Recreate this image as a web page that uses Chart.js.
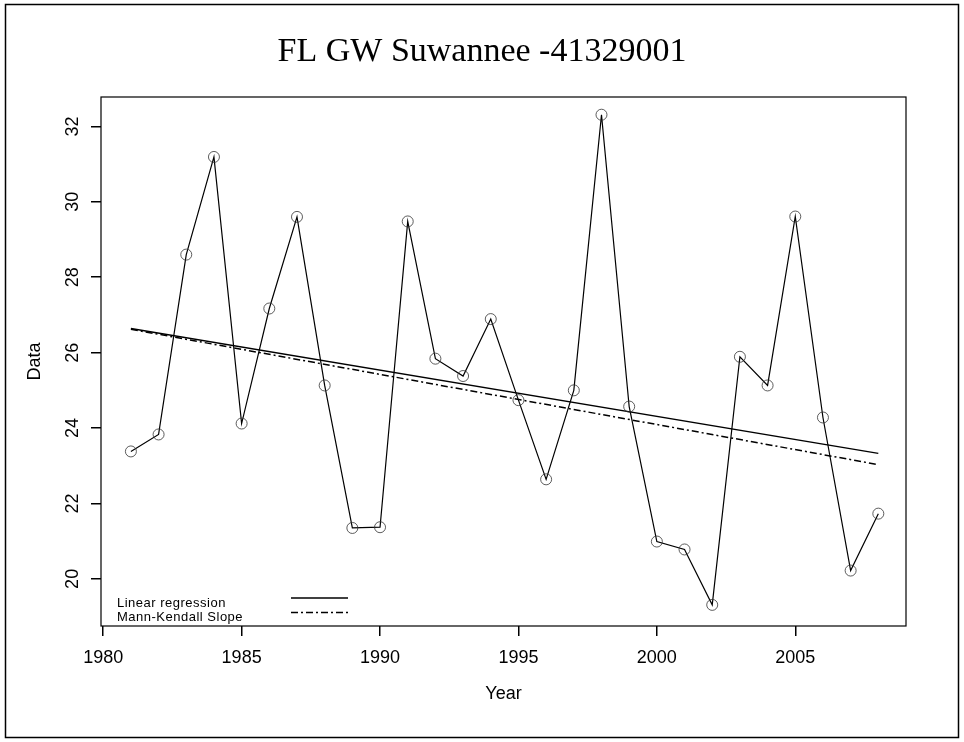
<!DOCTYPE html>
<html>
<head>
<meta charset="utf-8">
<title>FL GW Suwannee -41329001</title>
<script src="https://cdn.jsdelivr.net/npm/chart.js@4.4.1/dist/chart.umd.min.js"></script>
<style>
  html, body { margin: 0; padding: 0; background: #fff; }
  #wrap { width: 964px; height: 742px; }
</style>
</head>
<body>
<div id="wrap"><canvas id="myChart"></canvas></div>
<script>
// observed series
const years = [1981, 1982, 1983, 1984, 1985, 1986, 1987, 1988, 1989, 1990,
    1991, 1992, 1993, 1994, 1995, 1996, 1997, 1998, 1999, 2000,
    2001, 2002, 2003, 2004, 2005, 2006, 2007, 2008];
const values = [23.38, 23.83, 28.6, 31.19, 24.12, 27.17, 29.6, 25.13, 21.35, 21.37,
    29.48, 25.84, 25.38, 26.89, 24.74, 22.64, 25.0, 32.31, 24.57, 20.99,
    20.78, 19.31, 25.89, 25.13, 29.61, 24.28, 20.22, 21.73];

// trend lines (end points)
const trendYears = [1981, 2008];
const regressionValues = [26.64, 23.33];
const mannKendallValues = [26.62, 23.03];

const legendLabels = ['Linear regression', 'Mann-Kendall Slope'];

const xTicks = [1980, 1985, 1990, 1995, 2000, 2005];
const yTicks = [20, 22, 24, 26, 28, 30, 32];

function toPoints(xs, ys) {
    return xs.map((x, i) => ({ x: x, y: ys[i] }));
}

const mkDash = [7, 3, 2, 3];

const framePlugin = {
    id: 'frame',
    beforeDraw(chart) {
        const ctx = chart.ctx;
        ctx.save();
        ctx.fillStyle = '#fff';
        ctx.fillRect(0, 0, chart.width, chart.height);
        ctx.strokeStyle = '#000';
        ctx.lineWidth = 1.5;
        ctx.strokeRect(5.5, 4.5, chart.width - 11, chart.height - 9);
        ctx.restore();
    },
    afterDraw(chart) {
        const ctx = chart.ctx;
        const a = chart.chartArea;
        ctx.save();
        // plot box
        ctx.strokeStyle = '#000';
        ctx.lineWidth = 1.2;
        ctx.strokeRect(a.left, a.top, a.right - a.left, a.bottom - a.top);

        // legend in lower left corner
        ctx.font = '13px "Liberation Sans", Arial, sans-serif';
        ctx.letterSpacing = '0.5px';
        ctx.fillStyle = '#000';
        ctx.textBaseline = 'alphabetic';
        const items = chart.data.datasets.filter(d => d.inLegend);
        items.forEach((d, i) => {
            const base = a.bottom - 19.5 + i * 14.5;
            ctx.fillText(d.label, a.left + 16, base);
            ctx.beginPath();
            ctx.lineWidth = d.borderWidth;
            ctx.setLineDash(d.borderDash || []);
            ctx.moveTo(a.left + 190, base - 8.5);
            ctx.lineTo(a.left + 247, base - 8.5);
            ctx.stroke();
        });
        ctx.restore();
    }
};

const ctx = document.getElementById('myChart').getContext('2d');
const chart = new Chart(ctx, {
    type: 'scatter',
    data: {
        datasets: [{
            label: 'Data',
            data: toPoints(years, values),
            showLine: true,
            borderColor: '#000',
            borderWidth: 1.2,
            pointStyle: 'circle',
            pointRadius: 5.5,
            pointBorderWidth: 0.8,
            pointBorderColor: '#333',
            pointBackgroundColor: 'rgba(0,0,0,0)',
            tension: 0
        }, {
            label: legendLabels[0],
            inLegend: true,
            data: toPoints(trendYears, regressionValues),
            showLine: true,
            borderColor: '#000',
            borderWidth: 1.3,
            pointRadius: 0
        }, {
            label: legendLabels[1],
            inLegend: true,
            data: toPoints(trendYears, mannKendallValues),
            showLine: true,
            borderColor: '#000',
            borderWidth: 1.5,
            borderDash: mkDash,
            pointRadius: 0
        }]
    },
    options: {
        responsive: true,
        maintainAspectRatio: false,
        animation: false,
        devicePixelRatio: 1,
        layout: { padding: 0 },
        plugins: {
            legend: { display: false },
            tooltip: { enabled: false },
            title: {
                display: true,
                text: 'FL GW Suwannee -41329001',
                color: '#000',
                font: { family: '"Liberation Serif", "Times New Roman", serif', size: 34, weight: 'normal' },
                padding: { top: 32, bottom: 24.2 }
            }
        },
        scales: {
            x: {
                type: 'linear',
                min: 1979.92,
                max: 2009.0,
                afterBuildTicks: (scale) => { scale.ticks = xTicks.map(v => ({ value: v })); },
                afterFit: (scale) => { scale.height = 116; },
                border: { display: false },
                grid: { drawOnChartArea: false, drawTicks: true, tickLength: 10, color: '#000', lineWidth: 1.5 },
                ticks: {
                    color: '#000',
                    padding: 11,
                    maxRotation: 0,
                    font: { family: '"Liberation Sans", Arial, sans-serif', size: 18 },
                    callback: (v) => String(v)
                },
                title: {
                    display: true,
                    text: 'Year',
                    color: '#000',
                    font: { family: '"Liberation Sans", Arial, sans-serif', size: 18 },
                    padding: { top: 0, bottom: 37 }
                }
            },
            y: {
                type: 'linear',
                min: 18.75,
                max: 32.78,
                afterBuildTicks: (scale) => { scale.ticks = yTicks.map(v => ({ value: v })); },
                afterFit: (scale) => { scale.width = 101; },
                border: { display: false },
                grid: { drawOnChartArea: false, drawTicks: true, tickLength: 10, color: '#000', lineWidth: 1.5 },
                ticks: {
                    color: '#000',
                    padding: 8,
                    minRotation: 90,
                    maxRotation: 90,
                    crossAlign: 'center',
                    font: { family: '"Liberation Sans", Arial, sans-serif', size: 18 },
                    callback: (v) => String(v)
                },
                title: {
                    display: true,
                    text: 'Data',
                    color: '#000',
                    font: { family: '"Liberation Sans", Arial, sans-serif', size: 18 },
                    padding: { top: 24, bottom: 0 }
                }
            },
            // empty right margin so the title stays centred on the page
            yRight: {
                type: 'linear',
                position: 'right',
                display: true,
                afterFit: (scale) => { scale.width = 58; },
                border: { display: false },
                grid: { display: false },
                ticks: { display: false }
            }
        }
    },
    plugins: [framePlugin]
});
</script>
</body>
</html>
